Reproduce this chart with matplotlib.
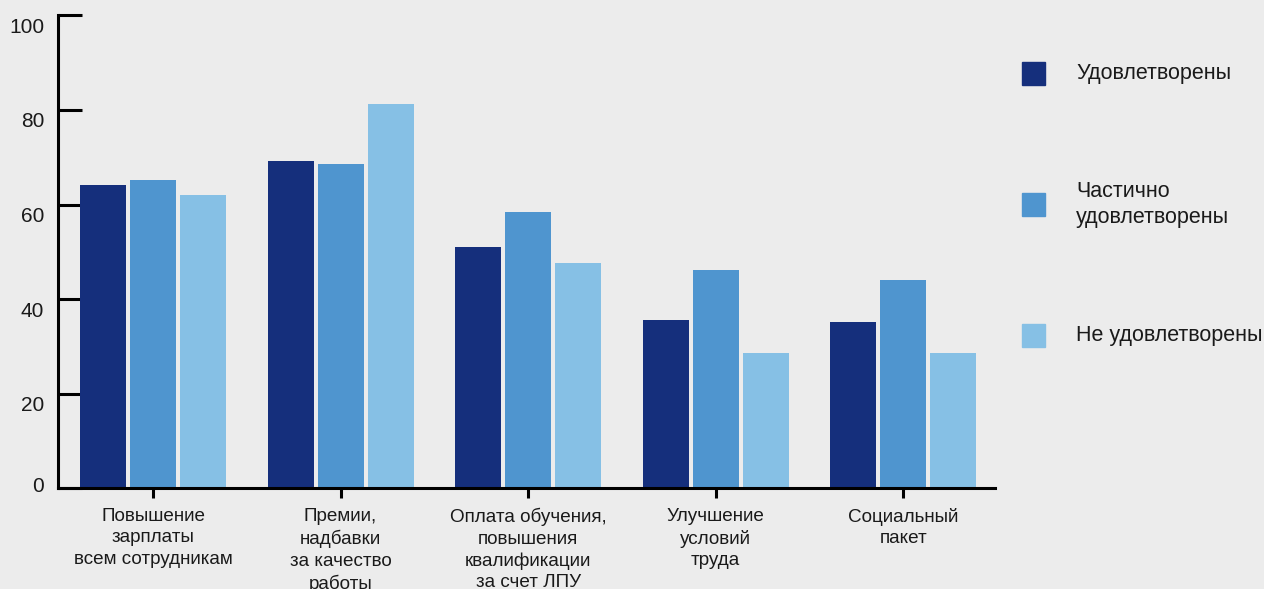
import numpy as np
import matplotlib
matplotlib.use('Agg')
import matplotlib.pyplot as plt
from matplotlib.patches import Rectangle
from matplotlib.transforms import ScaledTranslation

categories = ['Повышение\nзарплаты\nвсем сотрудникам',
              'Премии,\nнадбавки\nза качество\nработы',
              'Оплата обучения,\nповышения\nквалификации\nза счет ЛПУ',
              'Улучшение\nусловий\nтруда',
              'Социальный\nпакет']
series = ['Удовлетворены', 'Частично\nудовлетворены', 'Не удовлетворены']
satisfied = [64.1, 69.2, 51.0, 35.6, 35.2]
partly = [65.2, 68.6, 58.4, 46.2, 44.1]
not_satisfied = [62.0, 81.2, 47.7, 28.6, 28.6]
colors = ['#152f7c', '#4f95cf', '#86c0e5']

plt.rcParams['font.family'] = ['Liberation Sans', 'DejaVu Sans']
bg = '#ececec'
ink = '#1a1a1a'

fig = plt.figure(figsize=(12.64, 5.89), dpi=100, facecolor=bg)
ax = fig.add_axes([0.0459, 0.171, 0.7413, 0.803])
ax.set_facecolor(bg)

x = np.arange(len(categories))
w = 0.245
step = 0.267
for i, vals in enumerate([satisfied, partly, not_satisfied]):
    ax.bar(x + (i - 1) * step, vals, width=w, color=colors[i], zorder=2)

ax.set_xlim(-0.507, 4.49)
ax.set_ylim(0, 100)
ax.set_yticks([0, 20, 40, 60, 80, 100])
ax.set_xticks(x)
ax.set_xticklabels(categories, fontsize=13.6, color=ink, linespacing=1.35)

for s in ['top', 'right']:
    ax.spines[s].set_visible(False)
for s in ['left', 'bottom']:
    ax.spines[s].set_linewidth(2.2)
    ax.spines[s].set_color('black')
    ax.spines[s].set_zorder(3)

ax.tick_params(axis='y', direction='in', length=17, width=2.2, labelsize=15,
               labelcolor=ink, pad=10)
ax.tick_params(axis='x', direction='out', length=7, width=2.2, pad=7)

# y labels sit a little below their ticks, the zero a little above
for lab in ax.get_yticklabels():
    dy = 4 if lab.get_text() == '0' else -10
    lab.set_transform(lab.get_transform() + ScaledTranslation(0, dy / 100, fig.dpi_scale_trans))

# legend drawn by hand on the right
sq = 23 / 1264, 23 / 589
ys = [73.5, 204.5, 335.5]
for y, c, lab in zip(ys, colors, series):
    yf = 1 - y / 589
    fig.add_artist(Rectangle((1022 / 1264, yf - sq[1] / 2), sq[0], sq[1],
                             transform=fig.transFigure, color=c))
    fig.text(1076 / 1264, yf, lab, fontsize=15.5, color=ink, va='center',
             ha='left', linespacing=1.36)

fig.savefig('out.png', dpi=100, facecolor=bg)
